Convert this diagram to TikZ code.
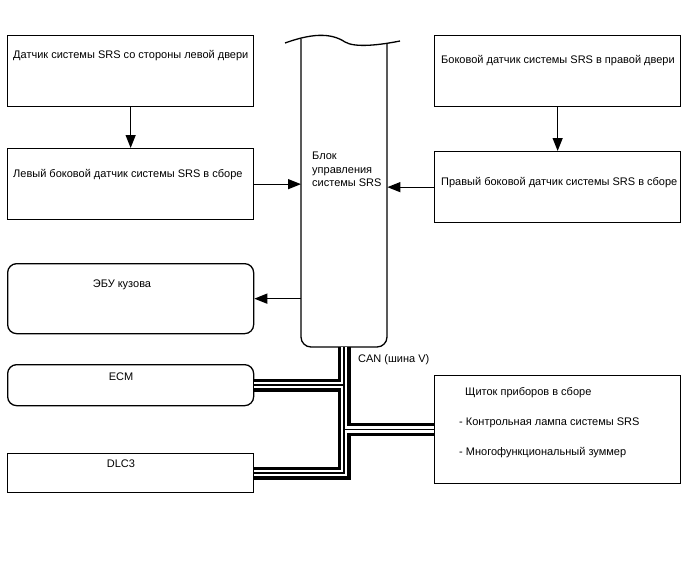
\documentclass[tikz,border=0pt]{standalone}
\usepackage{fontspec}
\setmainfont{Liberation Sans}
\usetikzlibrary{positioning, arrows.meta, calc}
\tikzset{
  blk/.style   = {draw, rectangle, line width=1.3pt, inner sep=0pt, anchor=north west},
  rblk/.style  = {blk, rounded corners=9pt},
  txt/.style   = {inner sep=0pt, font=\fontsize{11}{13.5}\selectfont, anchor=west},
  ar/.style    = {-{Triangle[length=13pt, width=10pt]}, line width=1.3pt},
}
% CAN bus: thick black tube, white core, thin black centre line
\newcommand{\canbus}[1]{%
  \foreach \lc/\lw in {black/13pt, white/6.5pt, black/1.5pt}
    \draw[line width=\lw, \lc] #1;}

\begin{document}
\begin{tikzpicture}[x=1pt, y=-1pt]
  \useasboundingbox (0,0) rectangle (688,560);
  % boxes
  \node[blk,  minimum width=246, minimum height=71] (ldoor) at (7,35) {};
  \node[blk,  minimum width=246, minimum height=71] (lside) at (7,148) {};
  \node[blk,  minimum width=246, minimum height=71] (rdoor) at (434,35) {};
  \node[blk,  minimum width=246, minimum height=71] (rside) at (434,151) {};
  \node[rblk, minimum width=246, minimum height=70] (body)  at (7,263) {};
  \node[rblk, minimum width=246, minimum height=41] (ecm)   at (7,364) {};
  \node[blk,  minimum width=246, minimum height=39] (dlc)   at (7,453) {};
  \node[blk,  minimum width=246, minimum height=108] (meter) at (434,375) {};
  % SRS unit (cut off at the top)
  \node[inner sep=0pt, minimum width=86, minimum height=300, anchor=south west] (srs) at (301,347) {};
  \draw[line width=1.3pt] (285,43) .. controls (310,34) and (330,32) .. (345,42)
    .. controls (355,48) and (380,45) .. (400,41);
  \draw[line width=1.3pt, rounded corners=10pt] (301,39) -- (301,347) -- (387,347) -- (387,43);
  % texts
  \node[txt] (ldoor-t) at (13,56)  {Датчик системы SRS со стороны левой двери};
  \node[txt] (lside-t) at (13,175) {Левый боковой датчик системы SRS в сборе};
  \node[txt] (rdoor-t) at (441,61) {Боковой датчик системы SRS в правой двери};
  \node[txt] (rside-t) at (441,183) {Правый боковой датчик системы SRS в сборе};
  \node[txt, anchor=north west, align=left] (srs-t) at (312,152) {Блок\\управления\\системы SRS};
  \node[txt, anchor=center] (body-t) at (122,285) {ЭБУ кузова};
  \node[txt, anchor=center] (ecm-t)  at (121,377) {ECM};
  \node[txt, anchor=center] (dlc-t)  at (121,464) {DLC3};
  \node[txt] (meter-t1) at (465,393) {Щиток приборов в сборе};
  \node[txt] (meter-t2) at (459,423) {- Контрольная лампа системы SRS};
  \node[txt] (meter-t3) at (459,453) {- Многофункциональный зуммер};
  \node[txt] (can-t) at (358,360) {CAN (шина V)};
  % arrows
  \draw[ar] (ldoor.south) -- (lside.north);
  \draw[ar] (rdoor.south) -- (rside.north);
  \draw[ar] (lside.east) -- (lside.east -| srs.west);
  \draw[ar] (rside.west) -- (rside.west -| srs.east);
  \draw[ar] (srs.west |- body.east) -- (body.east);
  % CAN bus
  \canbus{(srs.south) -- (srs.south |- dlc.east) -- (dlc.east)
          (srs.south |- ecm.east) -- (ecm.east)
          (srs.south |- meter.west) -- (meter.west)}
\end{tikzpicture}
\end{document}
